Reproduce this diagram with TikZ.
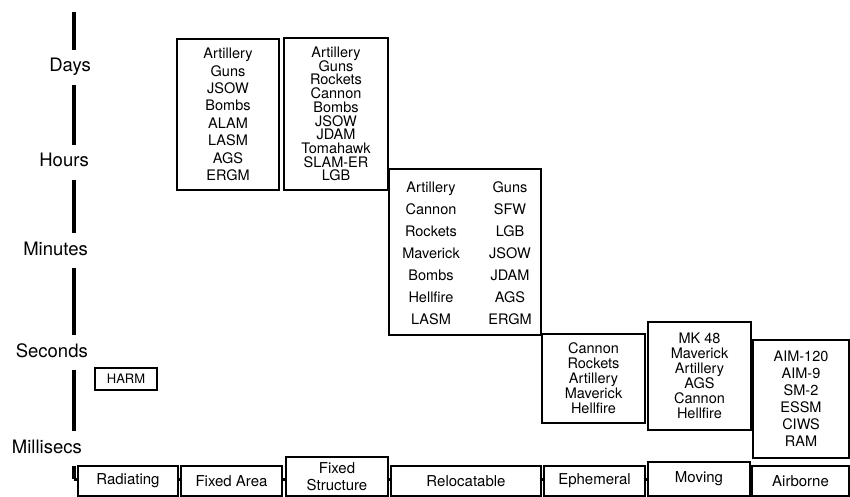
\documentclass[tikz,border=0pt]{standalone}
\usepackage{fontspec}
\setmainfont{TeX Gyre Heros}
\newcommand\tightlines{\lineskiplimit=-20pt\relax}
\begin{document}
\begin{tikzpicture}[x=1pt, y=-1pt,
  box/.style={draw, line width=1.5pt, inner sep=0pt, align=center, fill=white},
  tlabel/.style={anchor=east, inner sep=0pt, minimum height=34pt, text height=13pt, text depth=4pt, font=\fontsize{18.5}{20}\selectfont},
  axisline/.style={line width=4pt},
  catbox/.style={box, minimum height=30pt, font=\fontsize{15}{17}\selectfont}]
  \useasboundingbox (0,0) rectangle (850,497);
  % time scale on the left
  \coordinate (top) at (74,12);
  \coordinate (base) at (74,479);
  \coordinate (baseend) at (849,479);
  \node[tlabel] (days) at (91,67.5){Days};
  \node[tlabel] (hours) at (89,162.5){Hours};
  \node[tlabel] (minutes) at (88,250.5){Minutes};
  \node[tlabel] (seconds) at (88,352.5){Seconds};
  \node[tlabel] (msecs) at (82,448.5){Millisecs};
  \draw[axisline] (top) -- (days.north -| top);
  \draw[axisline] (days.south -| top) -- (hours.north -| top);
  \draw[axisline] (hours.south -| top) -- (minutes.north -| top);
  \draw[axisline] (minutes.south -| top) -- (seconds.north -| top);
  \draw[axisline] (seconds.south -| top) -- (msecs.north -| top);
  \draw[axisline] (msecs.south -| top) -- (base);
  \draw[line width=3pt] (base) -- (baseend);
  % target categories along the bottom
  \node[catbox, minimum width=100pt] (radiating) at (128,481){Radiating};
  \node[catbox, minimum width=101pt] (fixedarea) at (231.5,481){Fixed Area};
  \node[catbox, minimum width=102pt, minimum height=39pt] (fixedstruct) at (337,476.5){Fixed\\Structure};
  \node[catbox, minimum width=150pt] (relocatable) at (466,481){Relocatable};
  \node[catbox, minimum width=101pt] (ephemeral) at (594.5,481){Ephemeral};
  \node[catbox, minimum width=102pt, minimum height=34pt] (moving) at (699,479){Moving};
  \node[catbox, minimum width=97pt] (airborne) at (800.5,481){Airborne};
  % weapons per target class
  \node[box, minimum width=62pt, minimum height=22pt, font=\fontsize{13}{15}\selectfont] (harm) at (126,379){HARM};
  \node[box, minimum width=102pt, minimum height=151pt, font=\fontsize{14.5}{17.4}\selectfont] (fixedarea w) at (228,114.5)
    {Artillery\\Guns\\JSOW\\Bombs\\ALAM\\LASM\\AGS\\ERGM};
  \node[box, minimum width=104pt, minimum height=152pt, font=\fontsize{14.5}{13.7}\selectfont\tightlines] (fixedstruct w) at (336,114)
    {Artillery\\Guns\\Rockets\\Cannon\\Bombs\\JSOW\\JDAM\\Tomahawk\\SLAM-ER\\LGB};
  \node[box, minimum width=152pt, minimum height=166pt] (relocatable w) at (465,252){};
  \node[align=center, inner sep=0pt, font=\fontsize{14.5}{22}\selectfont] (relocatable wl) at (431,253)
    {Artillery\\Cannon\\Rockets\\Maverick\\Bombs\\Hellfire\\LASM};
  \node[align=center, inner sep=0pt, font=\fontsize{14.5}{22}\selectfont] (relocatable wr) at (510,253)
    {Guns\\SFW\\LGB\\JSOW\\JDAM\\AGS\\ERGM};
  \node[box, minimum width=103pt, minimum height=89pt, font=\fontsize{14.5}{15}\selectfont\tightlines] (ephemeral w) at (593.5,378.5)
    {Cannon\\Rockets\\Artillery\\Maverick\\Hellfire};
  \node[box, minimum width=103pt, minimum height=108pt, font=\fontsize{14.5}{15}\selectfont\tightlines] (moving w) at (699.5,376)
    {MK 48\\Maverick\\Artillery\\AGS\\Cannon\\Hellfire};
  \node[box, minimum width=96pt, minimum height=118pt, font=\fontsize{14.5}{17}\selectfont] (airborne w) at (801,399)
    {AIM-120\\AIM-9\\SM-2\\ESSM\\CIWS\\RAM};
\end{tikzpicture}
\end{document}
